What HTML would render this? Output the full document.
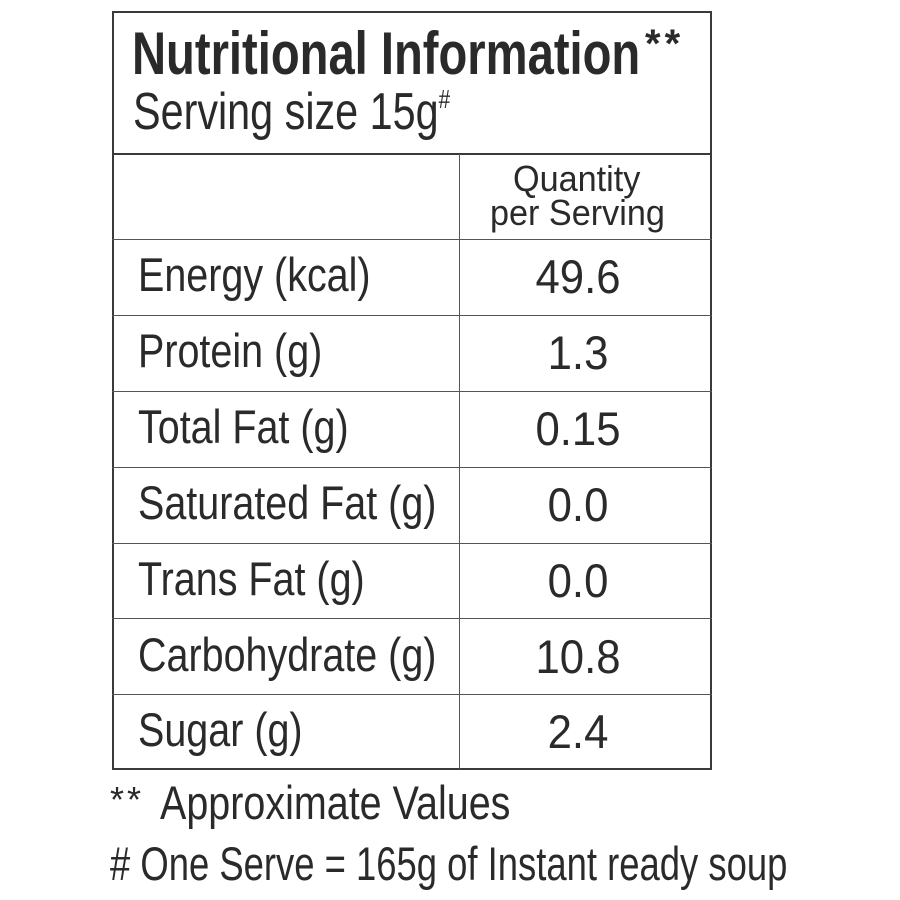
<!DOCTYPE html>
<html><head><style>
html,body{margin:0;padding:0;background:#fff;width:900px;height:900px;overflow:hidden;}
body{position:relative;font-family:"Liberation Sans",sans-serif;color:#2a2a2a;}
.t{position:absolute;white-space:nowrap;transform-origin:0 0;line-height:1;}
.v{position:absolute;left:453px;width:250px;text-align:center;white-space:nowrap;line-height:1;font-size:47px;transform:scaleX(0.93);transform-origin:125px 0;}
.l{position:absolute;background:#3a3a3a;}
</style></head><body>
<div class="l" style="left:112px;top:11px;width:600px;height:2px"></div>
<div class="l" style="left:112px;top:11px;width:2px;height:759px"></div>
<div class="l" style="left:710px;top:11px;width:2px;height:759px"></div>
<div class="l" style="left:112px;top:768px;width:600px;height:2px"></div>
<div class="l" style="left:112px;top:153px;width:600px;height:2px"></div>
<div class="l" style="left:459px;top:154px;width:1px;height:615px;background:#555"></div>
<div class="l" style="left:112px;top:239px;width:600px;height:1px;background:#555"></div>
<div class="l" style="left:112px;top:315px;width:600px;height:1px;background:#555"></div>
<div class="l" style="left:112px;top:391px;width:600px;height:1px;background:#555"></div>
<div class="l" style="left:112px;top:467px;width:600px;height:1px;background:#555"></div>
<div class="l" style="left:112px;top:543px;width:600px;height:1px;background:#555"></div>
<div class="l" style="left:112px;top:618px;width:600px;height:1px;background:#555"></div>
<div class="l" style="left:112px;top:694px;width:600px;height:1px;background:#555"></div>

<div class="t" style="left:132px;top:24px;font-size:60px;font-weight:bold;transform:scaleX(0.786)">Nutritional Information</div>
<div class="t" style="left:645px;top:24px;font-size:40px;font-weight:bold;letter-spacing:4px">**</div>
<div class="t" style="left:133px;top:86px;font-size:52px;transform:scaleX(0.795)">Serving size 15g<span style="font-size:26px;vertical-align:top">#</span></div>

<div class="t" style="left:513px;top:161px;font-size:36px;transform:scaleX(0.95)">Quantity</div>
<div class="t" style="left:490px;top:195px;font-size:36px;transform:scaleX(0.95)">per Serving</div>

<div class="t" style="left:138px;top:251px;font-size:47px;transform:scaleX(0.84)">Energy (kcal)</div>
<div class="t" style="left:138px;top:327px;font-size:47px;transform:scaleX(0.84)">Protein (g)</div>
<div class="t" style="left:138px;top:403px;font-size:47px;transform:scaleX(0.84)">Total Fat (g)</div>
<div class="t" style="left:138px;top:479px;font-size:47px;transform:scaleX(0.84)">Saturated Fat (g)</div>
<div class="t" style="left:138px;top:555px;font-size:47px;transform:scaleX(0.84)">Trans Fat (g)</div>
<div class="t" style="left:138px;top:631px;font-size:47px;transform:scaleX(0.84)">Carbohydrate (g)</div>
<div class="t" style="left:138px;top:706px;font-size:47px;transform:scaleX(0.84)">Sugar (g)</div>

<div class="v" style="top:253px">49.6</div>
<div class="v" style="top:329px">1.3</div>
<div class="v" style="top:405px">0.15</div>
<div class="v" style="top:481px">0.0</div>
<div class="v" style="top:557px">0.0</div>
<div class="v" style="top:633px">10.8</div>
<div class="v" style="top:708px">2.4</div>

<div class="t" style="left:110px;top:782px;font-size:36px;letter-spacing:3px">**</div>
<div class="t" style="left:160px;top:779px;font-size:47px;transform:scaleX(0.84)">Approximate Values</div>
<div class="t" style="left:110px;top:840px;font-size:47px;transform:scaleX(0.775)"># One Serve = 165g of Instant ready soup</div>
</body></html>
